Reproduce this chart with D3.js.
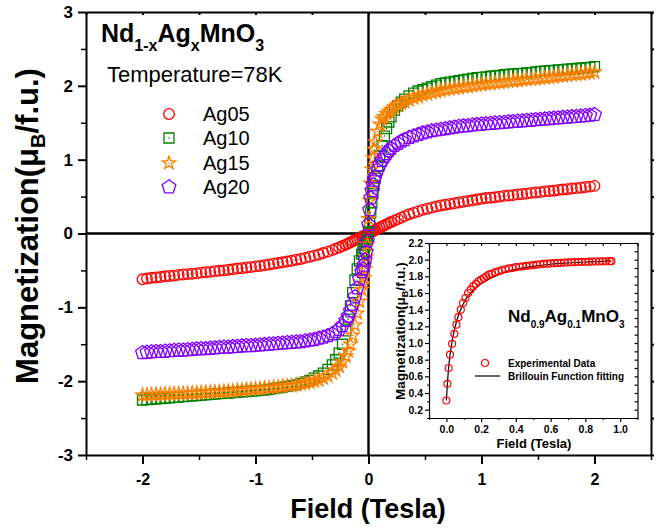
<!DOCTYPE html>
<html>
<head>
<meta charset="utf-8">
<script src="https://cdn.jsdelivr.net/npm/d3@7"></script>
<style>
  body { margin: 0; background: #fff; }
  svg { display: block; }
  text { font-family: "Liberation Sans", Arial, Helvetica, sans-serif; }
</style>
</head>
<body>
<svg id="chart" width="658" height="529"></svg>
<script>
// ---- Data: M–H curves at 78 K (field in Tesla, magnetization in μB/f.u.) ----
const field = [
  -2.00,-1.96,-1.92,-1.88,-1.84,-1.80,-1.76,-1.72,-1.68,-1.64,-1.60,-1.56,-1.52,-1.48,-1.44,-1.40,-1.36,-1.32,-1.28,-1.24,
  -1.20,-1.16,-1.12,-1.08,-1.04,-1.00,-0.96,-0.92,-0.88,-0.84,-0.80,-0.76,-0.72,-0.68,-0.64,-0.60,-0.56,-0.52,-0.48,-0.44,
  -0.40,-0.36,-0.32,-0.29,-0.26,-0.23,-0.20,-0.18,-0.16,-0.14,-0.12,-0.10,-0.08,-0.06,-0.05,-0.04,-0.03,-0.02,-0.01,
  0.00,0.01,0.02,0.03,0.04,0.05,0.06,0.08,0.10,0.12,0.14,0.16,0.18,0.20,0.23,0.26,0.29,0.32,0.36,0.40,
  0.44,0.48,0.52,0.56,0.60,0.64,0.68,0.72,0.76,0.80,0.84,0.88,0.92,0.96,1.00,1.04,1.08,1.12,1.16,1.20,
  1.24,1.28,1.32,1.36,1.40,1.44,1.48,1.52,1.56,1.60,1.64,1.68,1.72,1.76,1.80,1.84,1.88,1.92,1.96,2.00
];

const ag05 = [
  -0.62,-0.61,-0.60,-0.595,-0.59,-0.58,-0.575,-0.57,-0.56,-0.555,-0.55,-0.545,-0.54,-0.53,-0.525,-0.52,-0.51,-0.505,-0.50,-0.49,
  -0.485,-0.475,-0.47,-0.46,-0.455,-0.445,-0.44,-0.43,-0.42,-0.41,-0.40,-0.39,-0.38,-0.37,-0.355,-0.345,-0.33,-0.315,-0.30,-0.285,
  -0.265,-0.245,-0.225,-0.205,-0.19,-0.17,-0.15,-0.135,-0.12,-0.105,-0.09,-0.075,-0.06,-0.045,-0.04,-0.03,-0.025,-0.02,-0.01,
  0.00,0.01,0.02,0.025,0.03,0.04,0.05,0.065,0.08,0.095,0.11,0.125,0.14,0.155,0.175,0.195,0.215,0.235,0.26,0.28,
  0.30,0.32,0.335,0.35,0.365,0.38,0.39,0.40,0.41,0.42,0.43,0.44,0.45,0.46,0.47,0.48,0.485,0.49,0.50,0.51,
  0.515,0.52,0.53,0.535,0.54,0.55,0.555,0.56,0.57,0.575,0.58,0.59,0.595,0.60,0.61,0.615,0.62,0.63,0.635,0.645
];

const ag10 = [
  -2.255,-2.25,-2.245,-2.24,-2.235,-2.23,-2.225,-2.22,-2.215,-2.21,-2.205,-2.20,-2.195,-2.19,-2.185,-2.18,-2.175,-2.17,-2.165,-2.16,
  -2.155,-2.15,-2.145,-2.14,-2.135,-2.13,-2.125,-2.12,-2.11,-2.10,-2.09,-2.08,-2.07,-2.06,-2.05,-2.03,-2.01,-1.99,-1.96,-1.93,
  -1.89,-1.84,-1.78,-1.71,-1.62,-1.50,-1.32,-1.16,-0.98,-0.80,-0.63,-0.48,-0.37,-0.28,-0.24,-0.20,-0.16,-0.12,-0.08,
  0.02,0.14,0.28,0.42,0.54,0.65,0.75,0.91,1.05,1.19,1.32,1.42,1.51,1.58,1.67,1.73,1.78,1.82,1.865,1.90,
  1.93,1.95,1.97,1.99,2.01,2.03,2.04,2.05,2.06,2.07,2.08,2.09,2.10,2.11,2.115,2.12,2.13,2.135,2.14,2.15,
  2.155,2.16,2.165,2.17,2.175,2.18,2.19,2.195,2.20,2.205,2.21,2.215,2.22,2.225,2.23,2.235,2.24,2.245,2.25,2.26
];

const ag15 = [
  -2.19,-2.185,-2.185,-2.18,-2.18,-2.175,-2.175,-2.17,-2.17,-2.165,-2.165,-2.16,-2.16,-2.155,-2.15,-2.15,-2.145,-2.14,-2.14,-2.135,
  -2.13,-2.125,-2.12,-2.115,-2.11,-2.105,-2.10,-2.095,-2.09,-2.085,-2.08,-2.07,-2.065,-2.06,-2.05,-2.04,-2.03,-2.015,-2.00,-1.985,
  -1.96,-1.93,-1.89,-1.85,-1.80,-1.74,-1.66,-1.59,-1.50,-1.38,-1.24,-1.08,-0.92,-0.76,-0.68,-0.60,-0.48,-0.32,-0.15,
  0.20,0.45,0.68,0.87,1.02,1.14,1.24,1.38,1.48,1.55,1.58,1.62,1.65,1.68,1.71,1.74,1.765,1.785,1.81,1.835,
  1.855,1.875,1.89,1.905,1.92,1.935,1.945,1.955,1.965,1.975,1.985,1.99,2.00,2.01,2.015,2.025,2.03,2.04,2.045,2.05,
  2.06,2.065,2.07,2.08,2.085,2.09,2.095,2.10,2.11,2.115,2.12,2.13,2.135,2.14,2.15,2.155,2.16,2.17,2.175,2.185
];

const ag20 = [
  -1.615,-1.61,-1.605,-1.60,-1.60,-1.595,-1.59,-1.585,-1.58,-1.58,-1.575,-1.57,-1.565,-1.56,-1.56,-1.555,-1.55,-1.545,-1.54,-1.54,
  -1.535,-1.53,-1.525,-1.52,-1.52,-1.515,-1.51,-1.505,-1.50,-1.495,-1.49,-1.485,-1.48,-1.475,-1.47,-1.465,-1.455,-1.445,-1.435,-1.42,
  -1.405,-1.385,-1.36,-1.33,-1.30,-1.25,-1.18,-1.12,-1.05,-0.96,-0.86,-0.74,-0.62,-0.52,-0.48,-0.43,-0.36,-0.25,-0.10,
  0.12,0.32,0.48,0.58,0.66,0.72,0.77,0.86,0.93,0.99,1.04,1.08,1.12,1.15,1.19,1.22,1.25,1.27,1.30,1.32,
  1.34,1.36,1.375,1.39,1.40,1.41,1.42,1.43,1.44,1.45,1.455,1.46,1.47,1.475,1.48,1.485,1.49,1.495,1.50,1.505,
  1.51,1.515,1.52,1.525,1.53,1.535,1.54,1.545,1.55,1.555,1.56,1.565,1.57,1.575,1.58,1.585,1.59,1.595,1.60,1.61
];

const seriesNames = ["Ag05", "Ag10", "Ag15", "Ag20"];
const xTicks = [-2, -1, 0, 1, 2];
const xMinorTicks = [-2.5, -1.5, -0.5, 0.5, 1.5, 2.5];
const yTicks = [-3, -2, -1, 0, 1, 2, 3];
const yMinorTicks = [-2.5, -1.5, -0.5, 0.5, 1.5, 2.5];

// Inset: Nd0.9Ag0.1MnO3 virgin curve with Brillouin fit
const insetField = [0.000,0.006,0.013,0.021,0.033,0.046,0.058,0.069,0.083,0.096,0.110,0.125,0.140,0.155,0.170,0.185,0.200,0.215,0.230,0.245,
  0.260,0.280,0.300,0.320,0.340,0.360,0.380,0.400,0.420,0.440,0.460,0.480,0.500,0.520,0.540,0.560,0.580,0.600,0.620,0.640,
  0.660,0.680,0.700,0.720,0.740,0.760,0.780,0.800,0.820,0.840,0.860,0.880,0.900,0.920,0.940,0.950];
const insetM = [0.31,0.51,0.70,0.86,0.99,1.11,1.22,1.31,1.40,1.48,1.54,1.60,1.64,1.68,1.71,1.74,1.76,1.78,1.80,1.82,
  1.83,1.85,1.86,1.875,1.885,1.895,1.90,1.91,1.915,1.92,1.925,1.93,1.935,1.94,1.945,1.95,1.952,1.955,1.958,1.96,
  1.962,1.965,1.967,1.969,1.97,1.972,1.974,1.975,1.976,1.977,1.978,1.979,1.98,1.981,1.982,1.982];
const fitField = [0,0.01,0.02,0.03,0.04,0.05,0.06,0.08,0.10,0.12,0.14,0.16,0.18,0.20,0.25,0.30,0.35,0.40,0.50,0.60,0.70,0.80,0.90,0.95];
const fitM = [0.31,0.63,0.84,0.98,1.10,1.19,1.27,1.39,1.48,1.55,1.60,1.645,1.68,1.71,1.77,1.82,1.86,1.885,1.92,1.945,1.96,1.972,1.98,1.985];
const insetYTicks = [0.2,0.4,0.6,0.8,1.0,1.2,1.4,1.6,1.8,2.0,2.2];
const insetYMinor = [0.1,0.3,0.5,0.7,0.9,1.1,1.3,1.5,1.7,1.9,2.1];
const insetXTicks = [0.0,0.2,0.4,0.6,0.8,1.0];
const insetXMinor = [-0.1,0.1,0.3,0.5,0.7,0.9,1.1];

// ---- Drawing ----
const svg = d3.select("#chart");
const FONT = '"Liberation Sans", Arial, sans-serif';

const x = d3.scaleLinear().domain([-2.5, 2.5]).range([86, 651]);
const y = d3.scaleLinear().domain([-3, 3]).range([455, 12]);

const colors = { Ag05: "#ff0000", Ag10: "#008000", Ag15: "#ff8000", Ag20: "#8000ff" };

function pentagonPath(r) {
  const p = d3.path();
  for (let i = 0; i < 5; i++) {
    const a = -Math.PI / 2 + i * 2 * Math.PI / 5;
    if (i === 0) p.moveTo(r * Math.cos(a), r * Math.sin(a));
    else p.lineTo(r * Math.cos(a), r * Math.sin(a));
  }
  p.closePath();
  return p.toString();
}
const symbolPaths = {
  Ag05: d3.symbol(d3.symbolCircle, Math.PI * 5.3 * 5.3)(),
  Ag10: d3.symbol(d3.symbolSquare, 10 * 10)(),
  Ag15: d3.symbol(d3.symbolStar, 7 * 7 / 0.8908130915292852)(),
  Ag20: pentagonPath(7.2)
};
const centerDot = { Ag10: true, Ag15: true };

function styleAxis(g, width) {
  g.select(".domain").attr("stroke", "#000").attr("stroke-width", width);
  g.selectAll(".tick line").attr("stroke", "#000").attr("stroke-width", width);
}

// Left axis (outward ticks)
const gLeft = svg.append("g").attr("transform", "translate(86,0)")
  .call(d3.axisLeft(y).tickValues(yTicks).tickSize(8).tickSizeOuter(0).tickPadding(5).tickFormat(d => String(d)));
styleAxis(gLeft, 2);
gLeft.selectAll(".tick text").attr("font-family", FONT).attr("font-weight", "bold").attr("font-size", 17).attr("fill", "#000");
const gLeftMinor = svg.append("g").attr("transform", "translate(86,0)")
  .call(d3.axisLeft(y).tickValues(yMinorTicks).tickSize(5).tickSizeOuter(0).tickFormat(""));
gLeftMinor.select(".domain").remove();
gLeftMinor.selectAll(".tick line").attr("stroke-width", 1.5);

// Bottom axis (outward ticks)
const gBottom = svg.append("g").attr("transform", "translate(0,455)")
  .call(d3.axisBottom(x).tickValues(xTicks).tickSize(9).tickSizeOuter(0).tickPadding(10).tickFormat(d => String(d)));
styleAxis(gBottom, 2);
gBottom.selectAll(".tick text").attr("font-family", FONT).attr("font-weight", "bold").attr("font-size", 16).attr("fill", "#000");
const gBottomMinor = svg.append("g").attr("transform", "translate(0,455)")
  .call(d3.axisBottom(x).tickValues(xMinorTicks).tickSize(5).tickSizeOuter(0).tickFormat(""));
gBottomMinor.select(".domain").remove();
gBottomMinor.selectAll(".tick line").attr("stroke-width", 1.5);

// Top frame with short inward ticks
const gTop = svg.append("g").attr("transform", "translate(0,12)")
  .call(d3.axisBottom(x).tickValues(xTicks.concat(xMinorTicks)).tickSize(3).tickSizeOuter(0).tickFormat(""));
styleAxis(gTop, 2);
// Right frame with short ticks
const gRight = svg.append("g").attr("transform", "translate(651,0)")
  .call(d3.axisRight(y).tickValues(yTicks.concat(yMinorTicks)).tickSize(3).tickSizeOuter(0).tickFormat(""));
styleAxis(gRight, 2);

// Zero lines
svg.append("line").attr("x1", x(-2.5)).attr("x2", x(2.5)).attr("y1", y(0)).attr("y2", y(0))
  .attr("stroke", "#000").attr("stroke-width", 2.4);
svg.append("line").attr("x1", x(0)).attr("x2", x(0)).attr("y1", y(3)).attr("y2", y(-3))
  .attr("stroke", "#000").attr("stroke-width", 2.4);

// Data series
const seriesValues = { Ag05: ag05, Ag10: ag10, Ag15: ag15, Ag20: ag20 };
seriesNames.forEach(name => {
  const pts = field.map((h, i) => [h, seriesValues[name][i]]);
  const g = svg.append("g").attr("class", "series-" + name);
  g.selectAll("path.sym").data(pts).join("path")
    .attr("class", "sym")
    .attr("d", symbolPaths[name])
    .attr("transform", d => `translate(${x(d[0])},${y(d[1])})`)
    .attr("fill", "none")
    .attr("stroke", colors[name])
    .attr("stroke-width", 1.3);
  if (centerDot[name]) {
    g.selectAll("circle.dot").data(pts).join("circle")
      .attr("class", "dot")
      .attr("cx", d => x(d[0])).attr("cy", d => y(d[1])).attr("r", 0.8)
      .attr("fill", colors[name]);
  }
});

// Title and temperature
const title = svg.append("text").attr("x", 101).attr("y", 42)
  .attr("font-family", FONT).attr("font-weight", "bold").attr("font-size", 25).attr("fill", "#000");
title.append("tspan").text("Nd");
title.append("tspan").attr("dy", 9).attr("font-size", 16).text("1-x");
title.append("tspan").attr("dy", -9).text("Ag");
title.append("tspan").attr("dy", 9).attr("font-size", 16).text("x");
title.append("tspan").attr("dy", -9).text("MnO");
title.append("tspan").attr("dy", 9).attr("font-size", 16).text("3");

svg.append("text").attr("x", 107).attr("y", 82)
  .attr("font-family", FONT).attr("font-size", 22).attr("fill", "#000")
  .text("Temperature=78K");

// Legend
const legendY = [114, 138, 163, 187];
seriesNames.forEach((name, i) => {
  svg.append("path").attr("d", symbolPaths[name])
    .attr("transform", `translate(169,${legendY[i]})`)
    .attr("fill", "none").attr("stroke", colors[name]).attr("stroke-width", 1.3);
  if (centerDot[name]) {
    svg.append("circle").attr("cx", 169).attr("cy", legendY[i]).attr("r", 0.8).attr("fill", colors[name]);
  }
  svg.append("text").attr("x", 203).attr("y", legendY[i] + 7)
    .attr("font-family", FONT).attr("font-size", 20).attr("fill", "#000")
    .text(name);
});

// Axis titles
svg.append("text").attr("x", 368).attr("y", 518).attr("text-anchor", "middle")
  .attr("font-family", FONT).attr("font-weight", "bold").attr("font-size", 27).attr("fill", "#000")
  .text("Field (Tesla)");

const yTitle = svg.append("text").attr("transform", "translate(38,226) rotate(-90)")
  .attr("text-anchor", "middle")
  .attr("font-family", FONT).attr("font-weight", "bold").attr("font-size", 31).attr("fill", "#000");
yTitle.append("tspan").text("Magnetization(μ");
yTitle.append("tspan").attr("dy", 7).attr("font-size", 20).text("B");
yTitle.append("tspan").attr("dy", -7).text("/f.u.)");

// ---- Inset ----
const ix = d3.scaleLinear().domain([-0.1, 1.1]).range([429, 637.5]);
const iy = d3.scaleLinear().domain([0.1, 2.2]).range([418, 243]);
const inset = svg.append("g").attr("class", "inset");

const iLeft = inset.append("g").attr("transform", `translate(${ix(-0.1)},0)`)
  .call(d3.axisLeft(iy).tickValues(insetYTicks).tickSize(4).tickSizeOuter(0).tickPadding(2).tickFormat(d3.format(".1f")));
styleAxis(iLeft, 1.2);
iLeft.selectAll(".tick text").attr("font-family", FONT).attr("font-weight", "bold").attr("font-size", 10.5).attr("fill", "#000");
const iLeftMinor = inset.append("g").attr("transform", `translate(${ix(-0.1)},0)`)
  .call(d3.axisLeft(iy).tickValues(insetYMinor).tickSize(2).tickFormat(""));
iLeftMinor.select(".domain").remove();

const iRight = inset.append("g").attr("transform", `translate(${ix(1.1)},0)`)
  .call(d3.axisLeft(iy).tickValues(insetYTicks.concat(insetYMinor)).tickSize(3).tickSizeOuter(0).tickFormat(""));
styleAxis(iRight, 1.2);

const iBottom = inset.append("g").attr("transform", `translate(0,${iy(0.1)})`)
  .call(d3.axisBottom(ix).tickValues(insetXTicks).tickSize(4).tickSizeOuter(0).tickPadding(4).tickFormat(d3.format(".1f")));
styleAxis(iBottom, 1.2);
iBottom.selectAll(".tick text").attr("font-family", FONT).attr("font-weight", "bold").attr("font-size", 10.5).attr("fill", "#000");
const iBottomMinor = inset.append("g").attr("transform", `translate(0,${iy(0.1)})`)
  .call(d3.axisBottom(ix).tickValues(insetXMinor).tickSize(2).tickFormat(""));
iBottomMinor.select(".domain").remove();

const iTop = inset.append("g").attr("transform", `translate(0,${iy(2.2)})`)
  .call(d3.axisBottom(ix).tickValues(insetXTicks.concat(insetXMinor)).tickSize(3).tickSizeOuter(0).tickFormat(""));
styleAxis(iTop, 1.2);

// Brillouin fit line
const fitPts = fitField.map((h, i) => [h, fitM[i]]);
inset.append("path").datum(fitPts)
  .attr("d", d3.line().x(d => ix(d[0])).y(d => iy(d[1])).curve(d3.curveMonotoneX))
  .attr("fill", "none").attr("stroke", "#000").attr("stroke-width", 1.2);

// Experimental points
const expPts = insetField.map((h, i) => [h, insetM[i]]);
inset.selectAll("circle.exp").data(expPts).join("circle")
  .attr("class", "exp")
  .attr("cx", d => ix(d[0])).attr("cy", d => iy(d[1])).attr("r", 3.5)
  .attr("fill", "none").attr("stroke", "#ff0000").attr("stroke-width", 1.2);

// Inset titles
const iTitle = inset.append("text").attr("x", 508).attr("y", 322)
  .attr("font-family", FONT).attr("font-weight", "bold").attr("font-size", 17).attr("fill", "#000");
iTitle.append("tspan").text("Nd");
iTitle.append("tspan").attr("dy", 6).attr("font-size", 10).text("0.9");
iTitle.append("tspan").attr("dy", -6).text("Ag");
iTitle.append("tspan").attr("dy", 6).attr("font-size", 10).text("0.1");
iTitle.append("tspan").attr("dy", -6).text("MnO");
iTitle.append("tspan").attr("dy", 6).attr("font-size", 10).text("3");

inset.append("text").attr("x", 534).attr("y", 448).attr("text-anchor", "middle")
  .attr("font-family", FONT).attr("font-weight", "bold").attr("font-size", 13).attr("fill", "#000")
  .text("Field (Tesla)");

const iyTitle = inset.append("text").attr("transform", "translate(405,331) rotate(-90)")
  .attr("text-anchor", "middle")
  .attr("font-family", FONT).attr("font-weight", "bold").attr("font-size", 13.5).attr("fill", "#000");
iyTitle.append("tspan").text("Magnetization(μ");
iyTitle.append("tspan").attr("dy", 3).attr("font-size", 9).text("B");
iyTitle.append("tspan").attr("dy", -3).text("/f.u.)");

// Inset legend
inset.append("circle").attr("cx", 485).attr("cy", 363).attr("r", 3.5)
  .attr("fill", "none").attr("stroke", "#ff0000").attr("stroke-width", 1.2);
inset.append("text").attr("x", 508).attr("y", 367)
  .attr("font-family", FONT).attr("font-weight", "bold").attr("font-size", 10).attr("fill", "#000")
  .text("Experimental Data");
inset.append("line").attr("x1", 475).attr("x2", 500).attr("y1", 376).attr("y2", 376)
  .attr("stroke", "#000").attr("stroke-width", 1.2);
inset.append("text").attr("x", 508).attr("y", 380)
  .attr("font-family", FONT).attr("font-weight", "bold").attr("font-size", 10).attr("fill", "#000")
  .text("Brillouin Function fitting");
</script>
</body>
</html>
